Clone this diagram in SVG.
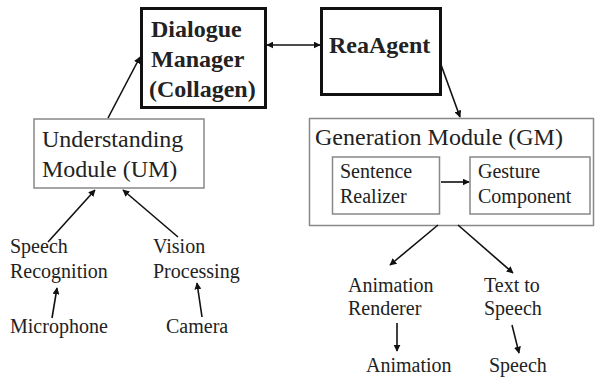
<svg xmlns="http://www.w3.org/2000/svg" width="597" height="379" viewBox="0 0 597 379">
<style>
svg text, text, tspan{font-family:"Liberation Serif","Times New Roman",serif !important;fill:#222}
.b{font-weight:bold;font-size:24px}
.m{font-size:24px}
.s{font-size:20px}
.thick{fill:#fff;stroke:#111;stroke-width:3}
.thin{fill:#fff;stroke:#888;stroke-width:1.5}
.c{stroke:#111;stroke-width:1.6;fill:none}
</style>
<defs>
<marker id="ah" viewBox="0 0 10 10" refX="9" refY="5" markerWidth="7" markerHeight="7" markerUnits="userSpaceOnUse" orient="auto-start-reverse">
<path d="M0,0 L10,5 L0,10 z" fill="#111"/>
</marker>
</defs>
<g id="dm"><rect class="thick" x="141.5" y="8.5" width="124" height="99"/>
<text class="b" style="font-family:'Liberation Serif',serif !important" x="151" y="37">Dialogue</text>
<text class="b" style="font-family:'Liberation Serif',serif !important" x="151" y="67">Manager</text>
<text class="b" style="font-family:'Liberation Serif',serif !important" x="149" y="97">(Collagen)</text></g>
<g id="rea"><rect class="thick" x="321.5" y="8.5" width="119" height="86"/>
<text class="b" style="font-family:'Liberation Serif',serif !important" x="329" y="53">ReaAgent</text></g>
<g id="um"><rect class="thin" x="34" y="119" width="170" height="69"/>
<text class="m" style="font-family:'Liberation Serif',serif !important" x="42" y="147">Understanding</text>
<text class="m" style="font-family:'Liberation Serif',serif !important" x="42" y="177">Module (UM)</text></g>
<g id="gm"><rect class="thin" x="309.5" y="118.5" width="284" height="107"/>
<text class="m" style="font-family:'Liberation Serif',serif !important" x="315" y="145">Generation Module (GM)</text></g>
<g id="sr"><rect class="thin" x="332.5" y="157" width="107" height="57"/>
<text class="s" style="font-family:'Liberation Serif',serif !important" x="340" y="178">Sentence</text>
<text class="s" style="font-family:'Liberation Serif',serif !important" x="340" y="203">Realizer</text></g>
<g id="gc"><rect class="thin" x="470" y="157" width="120" height="57"/>
<text class="s" style="font-family:'Liberation Serif',serif !important" x="478" y="178">Gesture</text>
<text class="s" style="font-family:'Liberation Serif',serif !important" x="478" y="203">Component</text></g>
<g id="sp"><text class="s" style="font-family:'Liberation Serif',serif !important" x="10" y="253">Speech</text>
<text class="s" style="font-family:'Liberation Serif',serif !important" x="10" y="278">Recognition</text></g>
<g id="vp"><text class="s" style="font-family:'Liberation Serif',serif !important" x="153" y="253">Vision</text>
<text class="s" style="font-family:'Liberation Serif',serif !important" x="153" y="278">Processing</text></g>
<g id="mic"><text class="s" style="font-family:'Liberation Serif',serif !important" x="10" y="333">Microphone</text></g>
<g id="cam"><text class="s" style="font-family:'Liberation Serif',serif !important" x="166" y="333">Camera</text></g>
<g id="ar"><text class="s" style="font-family:'Liberation Serif',serif !important" x="348" y="292">Animation</text>
<text class="s" style="font-family:'Liberation Serif',serif !important" x="348" y="315">Renderer</text></g>
<g id="tts"><text class="s" style="font-family:'Liberation Serif',serif !important" x="484" y="292">Text to</text>
<text class="s" style="font-family:'Liberation Serif',serif !important" x="484" y="315">Speech</text></g>
<g id="anim"><text class="s" style="font-family:'Liberation Serif',serif !important" x="366" y="372">Animation</text></g>
<g id="speech"><text class="s" style="font-family:'Liberation Serif',serif !important" x="489" y="372">Speech</text></g>
<g id="connectors">
<path class="c" d="M108,118 L140,57" marker-end="url(#ah)"/>
<path class="c" d="M267,45 L320,45" marker-start="url(#ah)" marker-end="url(#ah)"/>
<path class="c" d="M440,62 L460,117" marker-end="url(#ah)"/>
<path class="c" d="M441,182 L469,182" marker-end="url(#ah)"/>
<path class="c" d="M48,242 L95,190" marker-end="url(#ah)"/>
<path class="c" d="M178,237 L123,190" marker-end="url(#ah)"/>
<path class="c" d="M52,318 L57,288" marker-end="url(#ah)"/>
<path class="c" d="M202,317 L197,283" marker-end="url(#ah)"/>
<path class="c" d="M438,225 L390,265" marker-end="url(#ah)"/>
<path class="c" d="M458,225 L513,273" marker-end="url(#ah)"/>
<path class="c" d="M397,323 L397,351" marker-end="url(#ah)"/>
<path class="c" d="M512,325 L519,353" marker-end="url(#ah)"/>
</g>
</svg>
